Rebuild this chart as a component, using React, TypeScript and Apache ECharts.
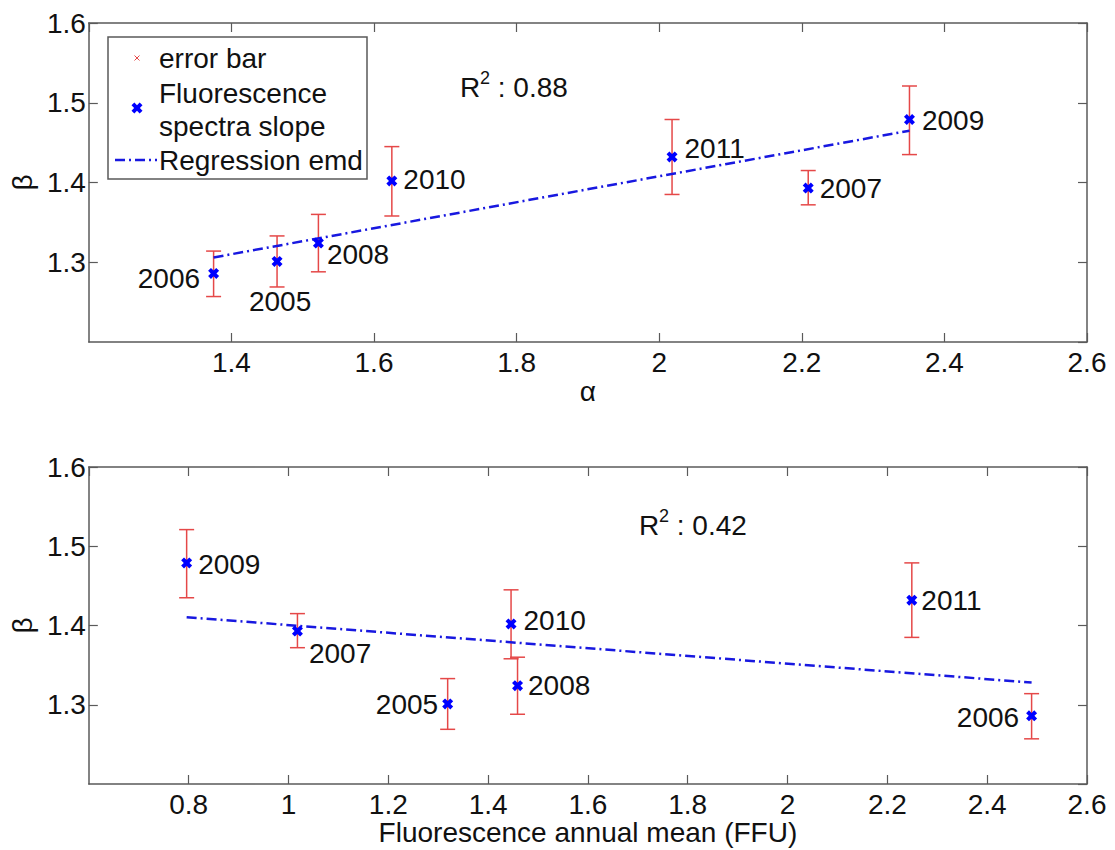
import React, { useEffect, useRef } from 'react';
import * as echarts from 'echarts';

// ---------------- data ----------------
const years = ['2005', '2006', '2007', '2008', '2009', '2010', '2011'];
const alphaVals = [1.464, 1.375, 2.209, 1.522, 2.351, 1.625, 2.018];
const fluoMean = [1.319, 2.489, 1.018, 1.459, 0.796, 1.446, 2.249];
const betaVals = [1.301, 1.286, 1.393, 1.324, 1.479, 1.402, 1.432];
const betaLow = [1.269, 1.257, 1.372, 1.288, 1.435, 1.358, 1.385];
const betaHigh = [1.333, 1.314, 1.415, 1.360, 1.521, 1.445, 1.479];

const regAlphaX = [1.375, 2.351];
const regAlphaY = [1.306, 1.465];
const regFluoX = [0.796, 2.489];
const regFluoY = [1.4105, 1.328];

const r2Alpha = '0.88';
const r2Fluo = '0.42';

const alphaRange = [1.2, 2.6];
const fluoRange = [0.6, 2.6];
const betaRange = [1.2, 1.6];
const xStep = 0.2;
const yStep = 0.1;

const legendLabels = ['error bar', 'Fluorescence', 'spectra slope', 'Regression emd'];
const alphaName = 'α';
const fluoName = 'Fluorescence annual mean (FFU)';
const betaName = 'β';

// ---------------- styles / placement ----------------
const FONT = "'Liberation Sans', Arial, Helvetica, sans-serif";
const FS = 28;
const TEXT = '#111111';
const AXIS = '#5a5a5a';
const RED = '#e54848';
const BLUE = '#0000ff';
const LINE_BLUE = '#1818e0';
const XPATH = 'path://M0,2.6 L2.6,0 L5,2.4 L7.4,0 L10,2.6 L7.6,5 L10,7.4 L7.4,10 L5,7.6 L2.6,10 L0,7.4 L2.4,5 Z';

const labelTop = [
  { position: 'bottom', distance: 21, offset: [3, 0] },
  { position: 'left', distance: 8, offset: [0, 5] },
  { position: 'right', distance: 6, offset: [0, 0] },
  { position: 'right', distance: 3, offset: [0, 11] },
  { position: 'right', distance: 7, offset: [0, 1] },
  { position: 'right', distance: 6, offset: [0, -1] },
  { position: 'right', distance: 7, offset: [0, -8] },
];
const labelBottom = [
  { position: 'left', distance: 4, offset: [0, 1] },
  { position: 'left', distance: 7, offset: [0, 2] },
  { position: 'right', distance: 6, offset: [0, 22] },
  { position: 'right', distance: 5, offset: [0, 0] },
  { position: 'right', distance: 6, offset: [0, 2] },
  { position: 'right', distance: 7, offset: [0, -3] },
  { position: 'right', distance: 4, offset: [0, 0] },
];

const fmt = (v: number) => String(parseFloat(v.toFixed(2)));

function xAxisCfg(gridIndex: number, range: number[], position: string, main: boolean, name?: string, nameGap?: number) {
  return {
    type: 'value',
    gridIndex,
    position,
    min: range[0],
    max: range[1],
    interval: xStep,
    name: main ? name : undefined,
    nameLocation: 'middle',
    nameGap,
    nameTextStyle: { color: TEXT, fontSize: FS, fontFamily: FONT },
    axisLine: { show: true, onZero: false, lineStyle: { color: AXIS, width: 1.5 } },
    axisTick: { show: true, inside: true, length: 9, lineStyle: { color: AXIS, width: 1.2 } },
    splitLine: { show: false },
    axisLabel: {
      show: main,
      showMinLabel: false,
      margin: 6,
      color: TEXT,
      fontSize: FS,
      fontFamily: FONT,
      formatter: fmt,
    },
  };
}

function yAxisCfg(gridIndex: number, position: string, main: boolean) {
  return {
    type: 'value',
    gridIndex,
    position,
    min: betaRange[0],
    max: betaRange[1],
    interval: yStep,
    name: main ? betaName : undefined,
    nameLocation: 'middle',
    nameGap: 45,
    nameRotate: 90,
    nameTextStyle: { color: TEXT, fontSize: FS, fontFamily: FONT },
    axisLine: { show: true, onZero: false, lineStyle: { color: AXIS, width: 1.5 } },
    axisTick: { show: true, inside: true, length: 9, lineStyle: { color: AXIS, width: 1.2 } },
    splitLine: { show: false },
    axisLabel: {
      show: main,
      showMinLabel: false,
      margin: 3,
      color: TEXT,
      fontSize: FS,
      fontFamily: FONT,
      formatter: fmt,
    },
  };
}

function errorBarSeries(xs: number[], xAxisIndex: number, yAxisIndex: number) {
  return {
    type: 'custom',
    xAxisIndex,
    yAxisIndex,
    z: 2,
    encode: { x: 0, y: [1, 2] },
    data: xs.map((x, i) => [x, betaLow[i], betaHigh[i]]),
    renderItem: (_params: any, api: any) => {
      const x = api.value(0);
      const pLo = api.coord([x, api.value(1)]);
      const pHi = api.coord([x, api.value(2)]);
      const w = 7.5;
      const st = { stroke: RED, lineWidth: 1.5 };
      return {
        type: 'group',
        children: [
          { type: 'line', shape: { x1: pLo[0], y1: pLo[1], x2: pHi[0], y2: pHi[1] }, style: st },
          { type: 'line', shape: { x1: pHi[0] - w, y1: pHi[1], x2: pHi[0] + w, y2: pHi[1] }, style: st },
          { type: 'line', shape: { x1: pLo[0] - w, y1: pLo[1], x2: pLo[0] + w, y2: pLo[1] }, style: st },
        ],
      };
    },
  };
}

function scatterSeries(xs: number[], placements: any[], xAxisIndex: number, yAxisIndex: number) {
  return {
    type: 'scatter',
    xAxisIndex,
    yAxisIndex,
    z: 4,
    symbol: XPATH,
    symbolSize: 11,
    itemStyle: { color: BLUE, opacity: 1 },
    data: xs.map((x, i) => ({
      value: [x, betaVals[i]],
      name: years[i],
      label: {
        show: true,
        formatter: years[i],
        color: TEXT,
        fontSize: FS,
        fontFamily: FONT,
        ...placements[i],
      },
    })),
  };
}

function regSeries(xs: number[], ys: number[], xAxisIndex: number, yAxisIndex: number) {
  return {
    type: 'line',
    xAxisIndex,
    yAxisIndex,
    z: 3,
    showSymbol: false,
    symbol: 'none',
    data: xs.map((x, i) => [x, ys[i]]),
    lineStyle: { color: LINE_BLUE, width: 2.5, type: [10, 4, 2, 4] },
  };
}

function txt(text: string, x: number, y: number, size: number, align = 'left') {
  return {
    type: 'text',
    z: 100,
    style: {
      text,
      x,
      y,
      fill: TEXT,
      font: `${size}px ${FONT}`,
      textAlign: align,
      textVerticalAlign: 'middle',
      align,
      verticalAlign: 'middle',
    },
  };
}

function r2Graphics(x: number, y: number, val: string) {
  return [
    txt('R', x, y, FS),
    txt('2', x + 20, y - 9, 18),
    txt(' : ' + val, x + 30, y, FS),
  ];
}

const legendX = 108;
const legendY = 37;
const legendW = 259;
const legendH = 142;

function legendGraphics() {
  const cx = 137;
  const s = 1.1;
  const xs = [0, 2.6, 5, 7.4, 10, 7.6, 10, 7.4, 5, 2.6, 0, 2.4];
  const ys = [2.6, 0, 2.4, 0, 2.6, 5, 7.4, 10, 7.6, 10, 7.4, 5];
  const pts = xs.map((v, i) => [cx + (v - 5) * s, 108 + (ys[i] - 5) * s]);
  return [
    {
      type: 'rect',
      z: 99,
      shape: { x: legendX, y: legendY, width: legendW, height: legendH },
      style: { fill: '#ffffff', stroke: AXIS, lineWidth: 1.5 },
    },
    { type: 'line', z: 100, shape: { x1: cx - 2.5, y1: 55.5, x2: cx + 2.5, y2: 60.5 }, style: { stroke: RED, lineWidth: 1 } },
    { type: 'line', z: 100, shape: { x1: cx - 2.5, y1: 60.5, x2: cx + 2.5, y2: 55.5 }, style: { stroke: RED, lineWidth: 1 } },
    { type: 'polygon', z: 100, shape: { points: pts }, style: { fill: BLUE } },
    {
      type: 'line',
      z: 100,
      shape: { x1: 115, y1: 160, x2: 157, y2: 160 },
      style: { stroke: LINE_BLUE, lineWidth: 2.5, lineDash: [10, 4, 2, 4] },
    },
    txt(legendLabels[0], 159, 58, FS),
    txt(legendLabels[1], 159, 93, FS),
    txt(legendLabels[2], 159, 126, FS),
    txt(legendLabels[3], 159, 160, FS),
  ];
}

export default function App() {
  const ref = useRef<HTMLDivElement>(null);
  useEffect(() => {
    if (!ref.current) return;
    const chart = echarts.init(ref.current, undefined, { renderer: 'svg' });
    const option: any = {
      animation: false,
      backgroundColor: '#ffffff',
      textStyle: { fontFamily: FONT },
      grid: [
        { left: 84, top: 23, width: 1003, height: 319 },
        { left: 84, top: 467, width: 1003, height: 317 },
      ],
      xAxis: [
        xAxisCfg(0, alphaRange, 'bottom', true, alphaName, 35),
        xAxisCfg(0, alphaRange, 'top', false),
        xAxisCfg(1, fluoRange, 'bottom', true, fluoName, 29),
        xAxisCfg(1, fluoRange, 'top', false),
      ],
      yAxis: [
        yAxisCfg(0, 'left', true),
        yAxisCfg(0, 'right', false),
        yAxisCfg(1, 'left', true),
        yAxisCfg(1, 'right', false),
      ],
      series: [
        errorBarSeries(alphaVals, 0, 0),
        regSeries(regAlphaX, regAlphaY, 0, 0),
        scatterSeries(alphaVals, labelTop, 0, 0),
        errorBarSeries(fluoMean, 2, 2),
        regSeries(regFluoX, regFluoY, 2, 2),
        scatterSeries(fluoMean, labelBottom, 2, 2),
      ],
      graphic: [
        ...legendGraphics(),
        ...r2Graphics(460, 87, r2Alpha),
        ...r2Graphics(639, 525, r2Fluo),
      ],
    };
    chart.setOption(option);
    return () => chart.dispose();
  }, []);
  return (
    <div
      ref={ref}
      style={{ position: 'absolute', left: 0, top: 0, width: 1115, height: 850, background: '#fff' }}
    />
  );
}
